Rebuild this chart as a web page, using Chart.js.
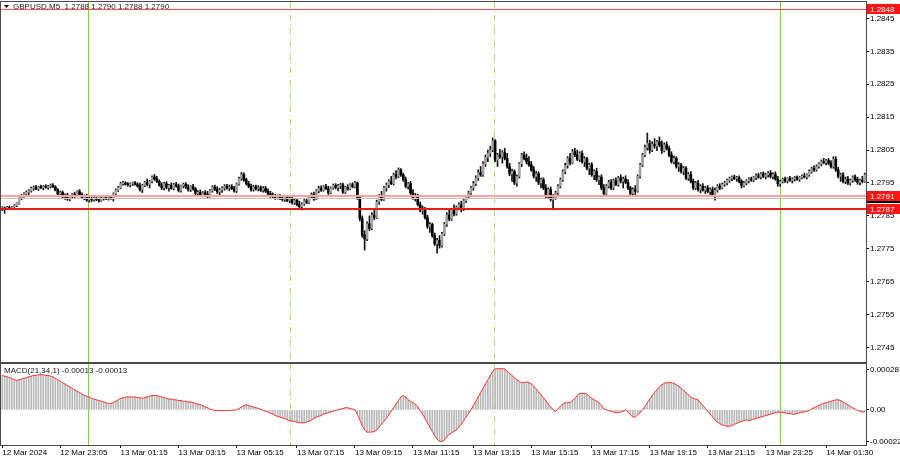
<!DOCTYPE html>
<html>
<head>
<meta charset="utf-8">
<script src="https://cdn.jsdelivr.net/npm/chart.js@4.4.1/dist/chart.umd.min.js"></script>
<style>
body { margin: 0; background: #fff; }
#wrap { position: relative; width: 900px; height: 460px; }
#price { position: absolute; left: 0; top: 0; }
#macd { position: absolute; left: 0; top: 363px; }
</style>
</head>
<body>
<div id="wrap">
<canvas id="price" width="900" height="363"></canvas>
<canvas id="macd" width="900" height="97"></canvas>
</div>
<script>
// GBPUSD M5, prices in points above 1.27000 (872 -> 1.27872)
const opens = [
  872,874,871,876,873,877,881,888,902,912, 917,922,926,934,937,932,938,936,939,937,
  940,943,938,929,916,921,908,913,901,909, 915,910,924,915,906,911,898,902,899,903,
  900,897,903,905,902,906,904,917,928,936, 948,950,946,944,947,949,945,941,930,943,
  952,946,955,968,962,955,944,935,948,936, 943,934,945,940,927,941,946,937,930,939,
  932,918,922,914,920,916,910,927,938,931, 923,929,934,940,935,938,933,926,947,963,
  976,960,948,940,930,938,933,936,928,934, 925,918,912,909,905,910,903,900,906,897,
  902,890,897,884,878,886,896,891,908,915, 901,926,934,928,939,933,920,935,943,936,
  941,944,922,937,932,945,939,950,905,842, 792,780,826,812,852,845,892,908,900,935,
  944,955,948,975,970,990,975,960,940,948, 920,905,912,884,866,872,845,818,824,790,
  765,776,760,795,825,852,840,868,856,876, 884,870,896,908,920,935,948,965,982,975,
  1008,1028,1040,1050,1078,1020,1035,1030,1042,1025, 1000,978,985,950,970,1008,1035,1025,1015,1005,
  990,970,978,950,960,935,910,930,900,905, 920,940,960,985,1003,1025,1012,1045,1036,1022,
  1040,1015,1024,995,1005,975,985,960,968,935, 918,940,952,935,957,945,965,955,962,952,
  935,918,930,925,970,1005,1035,1058,1070,1050, 1068,1062,1075,1065,1048,1066,1055,1035,1015,1025,
  1000,1005,985,995,965,976,955,935,950,930, 940,928,935,924,930,915,928,940,935,946,
  950,958,964,968,963,966,955,942,950,956, 962,959,967,972,968,978,970,975,980,970,
  976,962,948,954,962,956,964,958,962,966, 961,967,971,968,975,985,994,990,1000,1008,
  1015,1012,1018,1010,1000,1022,990,970,975,955, 962,950,958,968,960,952,958,955
];
const highs = [
  878,877,879,880,879,884,890,905,915,921, 926,930,938,941,943,940,944,942,945,943,
  947,948,942,933,925,926,917,919,912,918, 922,927,930,920,914,916,906,907,906,908,
  905,906,909,910,908,912,920,932,940,952, 955,954,951,950,953,955,951,950,946,955,
  962,958,972,976,970,960,951,952,954,946, 950,949,952,947,944,950,951,945,942,946,
  936,927,929,924,927,925,931,942,944,939, 934,938,945,946,944,945,940,950,968,982,
  981,965,955,947,943,944,942,941,939,940, 932,925,920,916,914,915,910,909,911,907,
  908,901,903,895,890,900,904,912,920,922, 930,940,941,942,946,940,938,947,948,946,
  949,950,940,945,948,951,955,953,910,850, 805,832,850,860,870,898,915,925,940,950,
  960,970,980,988,996,994,980,968,952,955, 930,918,916,892,880,876,852,830,828,798,
  782,790,800,830,860,870,872,884,880,890, 895,900,912,925,940,955,972,990,1000,1015,
  1035,1050,1062,1087,1082,1040,1052,1048,1055,1040, 1010,992,990,975,1012,1040,1045,1038,1030,1015,
  1000,985,984,965,966,945,935,938,915,925, 945,965,990,1010,1030,1040,1052,1055,1050,1045,
  1048,1030,1028,1010,1012,990,995,972,975,945, 945,958,960,962,966,970,975,968,972,960,
  940,935,942,975,1010,1040,1065,1102,1080,1075, 1085,1080,1090,1078,1072,1075,1062,1045,1032,1030,
  1012,1010,1000,1000,982,985,962,955,958,945, 948,940,942,935,938,935,945,948,950,955,
  962,968,972,974,970,972,960,955,960,966, 968,970,978,980,982,984,980,985,988,982,
  984,970,958,965,968,966,970,966,970,972, 970,975,980,978,990,998,1002,1005,1012,1020,
  1025,1022,1025,1018,1030,1030,998,980,982,968, 970,962,972,975,968,962,970,980
];
const lows = [
  866,858,869,871,870,874,878,886,899,907, 912,915,922,928,930,927,933,929,934,931,
  935,936,926,913,910,905,900,897,896,904, 906,908,912,902,899,894,892,893,895,896,
  892,894,898,899,898,900,895,912,924,933, 943,944,940,938,942,943,937,925,921,939,
  941,935,950,958,951,940,930,929,932,925, 931,929,937,923,922,935,933,925,924,928,
  913,909,910,908,912,905,907,922,927,918, 914,921,928,931,926,930,922,921,943,958,
  955,944,936,925,925,928,926,924,922,921, 912,906,904,900,901,899,895,894,893,890,
  886,885,880,870,868,882,887,888,903,897, 899,920,924,925,930,915,917,931,932,926,
  933,918,918,928,929,935,935,900,835,785, 746,775,805,808,838,842,885,896,897,925,
  936,945,944,962,966,970,955,935,932,915, 900,895,880,862,855,840,812,800,785,760,
  737,752,755,790,818,835,836,850,852,868, 862,866,890,902,915,928,942,958,970,970,
  1000,1015,1030,1045,1015,1000,1025,1010,1020,995, 972,955,945,940,965,1000,1020,1008,1000,985,
  965,955,945,935,930,905,905,895,868,900, 915,935,955,978,995,1005,1008,1030,1018,1015,
  1010,1000,990,975,970,960,955,945,930,913, 915,935,930,930,942,940,950,935,948,930,
  913,913,915,922,965,1000,1030,1050,1040,1045, 1055,1048,1060,1040,1044,1050,1030,1010,1008,995,
  985,980,975,960,958,950,930,930,925,920, 925,918,920,915,910,898,922,930,932,940,
  944,952,957,960,955,950,935,938,944,950, 955,954,960,964,962,966,962,968,965,962,
  958,940,940,950,952,950,955,950,956,958, 955,962,965,962,970,980,985,986,995,1002,
  1008,1005,1005,995,995,985,965,955,950,948, 945,944,952,955,946,944,950,952
];
const closes = [
  874,871,876,873,877,881,888,902,912,917, 922,926,934,937,932,938,936,939,937,940,
  943,938,929,916,921,908,913,901,909,915, 910,924,915,906,911,898,902,899,903,900,
  897,903,905,902,906,904,917,928,936,948, 950,946,944,947,949,945,941,930,943,952,
  946,955,968,962,955,944,935,948,936,943, 934,945,940,927,941,946,937,930,939,932,
  918,922,914,920,916,910,927,938,931,923, 929,934,940,935,938,933,926,947,963,976,
  960,948,940,930,938,933,936,928,934,925, 918,912,909,905,910,903,900,906,897,902,
  890,897,884,878,886,896,891,908,915,901, 926,934,928,939,933,920,935,943,936,941,
  944,922,937,932,945,939,950,905,842,792, 780,826,812,852,845,892,908,900,935,944,
  955,948,975,970,990,975,960,940,948,920, 905,912,884,866,872,845,818,824,790,765,
  776,760,795,825,852,840,868,856,876,884, 870,896,908,920,935,948,965,982,975,1008,
  1028,1040,1050,1078,1020,1035,1030,1042,1025,1000, 978,985,950,970,1008,1035,1025,1015,1005,990,
  970,978,950,960,935,910,930,900,905,920, 940,960,985,1003,1025,1012,1045,1036,1022,1040,
  1015,1024,995,1005,975,985,960,968,935,918, 940,952,935,957,945,965,955,962,952,935,
  918,930,925,970,1005,1035,1058,1070,1050,1068, 1062,1075,1065,1048,1066,1055,1035,1015,1025,1000,
  1005,985,995,965,976,955,935,950,930,940, 928,935,924,930,915,928,940,935,946,950,
  958,964,968,963,966,955,942,950,956,962, 959,967,972,968,978,970,975,980,970,976,
  962,948,954,962,956,964,958,962,966,961, 967,971,968,975,985,994,990,1000,1008,1015,
  1012,1018,1010,1000,1022,990,970,975,955,962, 950,958,968,960,952,958,955,975
];
// MACD(21,34,1) main line, in units of 0.00001
const macd = [
  24,23.5,23,22.5,22,21,20.5,21,21.5,22, 22.5,23,23.5,24,24,24.5,24.5,24.5,24,24,
  23.5,23,22,21,20,19,18,17,16,15, 14,13,12,11,10,9.5,9,8,7.5,7,
  6.5,6,5.5,5,4.5,4.5,5,6,7,8, 8.5,9,9,9,9,9,8.5,8.5,8,8.5,
  9,9.5,10,10,10,9.5,9,8.5,8,7.5, 7.5,7,7,6.5,6.5,6,6,5.5,5.5,5,
  4.5,4,3.5,3,2,1.5,0.5,0,-0.5,-0.5, -0.5,-0.5,-0.5,-0.5,-0.5,-0.3,-0.2,0,1,2,
  3,3.5,3,2.5,2,1.5,1,0.5,-0.5,-1, -1.5,-2.5,-3,-4,-4.5,-5,-5.5,-6,-7,-7.5,
  -8,-8,-8.5,-9,-9,-9,-8.5,-8,-7,-6, -5,-4.5,-4,-3,-2.5,-2,-1.5,-1,-0.5,0,
  0.5,1,1.5,1.5,1,0.5,0,-3,-7,-11, -14,-15.5,-15.5,-15.5,-15,-14,-12,-10,-8,-6,
  -3.5,-1,1.5,4,6.5,9,10,9,7,6, 5,4,2,-0.5,-3,-6,-9,-12,-15,-18,
  -20.5,-22,-22,-21,-19,-17,-16,-15,-14,-12, -10,-7.5,-5,-2.5,0,3,6,9,12,15,
  18,21,24,27,28.5,28.7,28.7,28.7,28.5,27, 25.5,24,22.5,21,20,19,19,19.5,19,18,
  16.5,14.5,12.5,10.5,8.5,6.5,4,2,0,-1, 0.5,2.5,4,5,5,5,6.5,8,10,11.5,
  11.5,11.5,11,9.5,8,7,6,5,3,1, 0,-0.5,-1,-1.5,-2,-2,-1.5,-1,0,-1.5,
  -3.5,-5,-5,-3.5,-2,0,2.5,5,7.5,10, 12,14,16,17.5,18.5,19,19,19,18.5,17.5,
  16.5,15,13.5,12,10.5,9,8,7.5,7,5, 3,1,-1,-3,-5,-7,-8.5,-9.5,-10.5,-11,
  -11.5,-11.5,-11,-10,-9.5,-8.5,-8,-7.5,-7,-7.5, -7,-6.5,-6,-5.5,-5,-4.5,-4,-3.5,-3,-2.5,
  -2,-1.5,-1.5,-2,-2,-2.5,-2.5,-3,-3,-2.5, -2,-1.5,-1.5,-1,-0.5,0.5,1.5,2.5,3,4,
  4.5,5,5.5,6,6.5,7,7,6.5,5.5,4.5, 3.5,2.5,1.5,0.5,-0.5,-1,-1.5,-1.3
];

const priceTicks = [450, 550, 650, 750, 850, 950, 1050, 1150, 1250, 1350, 1450];
const macdTicks = [28, 0, -22];
const macdTickText = ['0.00028', '0.00', '-0.00022'];
const timeTickIdx = [0, 24, 49, 73, 97, 122, 146, 170, 195, 219, 244, 268, 292, 316, 341];
const timeTickText = ['12 Mar 2024', '12 Mar 23:05', '13 Mar 01:15', '13 Mar 03:15', '13 Mar 05:15',
  '13 Mar 07:15', '13 Mar 09:15', '13 Mar 11:15', '13 Mar 13:15', '13 Mar 15:15', '13 Mar 17:15',
  '13 Mar 19:15', '13 Mar 21:15', '13 Mar 23:25', '14 Mar 01:30'];
const levels = [1480, 910, 870];
const levelText = ['1.2848', '1.2791', '1.2787'];
const bidLevel = 905;
const solidSeps = [36, 322];
const dashSeps = [119, 204];

Chart.defaults.font.family = '"Liberation Sans", Arial, sans-serif';
Chart.defaults.font.size = 8;
Chart.defaults.color = '#000';

const idx = closes.map((_, i) => i);
const bodyColors = closes.map((c, i) => c >= opens[i] ? '#a2a2a2' : '#000000');

// thin green lines lose their colour on odd columns, keep them on even ones
function sepX(x, i) {
    let px = Math.round(x.getPixelForValue(i));
    if (px % 2) px -= 1;
    return px + 0.5;
}

function drawSeparators(chart) {
    const { ctx, chartArea: a, scales: { x } } = chart;
    ctx.save();
    ctx.lineWidth = 1;
    solidSeps.forEach(i => {
        const px = sepX(x, i);
        ctx.strokeStyle = '#6fe010';
        ctx.beginPath(); ctx.moveTo(px, a.top); ctx.lineTo(px, a.bottom); ctx.stroke();
    });
    ctx.setLineDash([6, 3, 1, 3]);
    dashSeps.forEach(i => {
        const px = sepX(x, i);
        ctx.strokeStyle = '#9ee860';
        ctx.beginPath(); ctx.moveTo(px, a.top); ctx.lineTo(px, a.bottom); ctx.stroke();
    });
    ctx.restore();
}

function drawFrame(chart) {
    const { ctx, chartArea: a } = chart;
    ctx.save();
    ctx.strokeStyle = '#4a4a4a';
    ctx.lineWidth = 1;
    ctx.strokeRect(a.left - 0.5, a.top - 0.5, a.right - a.left + 1, a.bottom - a.top + 1);
    ctx.restore();
}

const priceDecor = {
    id: 'priceDecor',
    beforeDatasetsDraw(chart) { drawSeparators(chart); },
    afterDatasetsDraw(chart) {
        const { ctx, chartArea: a, scales: { y } } = chart;
        ctx.save();
        const styles = [['#ff4a4a', 1], ['#ffa0a0', 2], ['#e81c1c', 2]];
        ctx.strokeStyle = '#c4c4c4';
        ctx.lineWidth = 1;
        let py = Math.round(y.getPixelForValue(bidLevel)) + 0.5;
        ctx.beginPath(); ctx.moveTo(a.left, py); ctx.lineTo(a.right, py); ctx.stroke();
        levels.forEach((v, k) => {
            ctx.strokeStyle = styles[k][0];
            ctx.lineWidth = styles[k][1];
            const p = Math.round(y.getPixelForValue(v)) + (styles[k][1] === 1 ? 0.5 : 0);
            ctx.beginPath(); ctx.moveTo(a.left, p); ctx.lineTo(a.right, p); ctx.stroke();
        });
        ctx.restore();
    },
    afterDraw(chart) {
        const { ctx, chartArea: a, scales: { y } } = chart;
        drawFrame(chart);
        ctx.save();
        // header
        ctx.fillStyle = '#000';
        ctx.beginPath(); ctx.moveTo(4, 5); ctx.lineTo(9, 5); ctx.lineTo(6.5, 8); ctx.closePath(); ctx.fill();
        ctx.font = '8px "Liberation Sans", Arial, sans-serif';
        ctx.textBaseline = 'middle';
        ctx.fillStyle = '#1a1a1a';
        ctx.fillText('GBPUSD,M5  1.2788 1.2790 1.2788 1.2790', 13, 7);
        // price boxes on the right axis
        const bx = a.right + 1;
        let p = y.getPixelForValue(bidLevel);
        ctx.fillStyle = '#000';
        ctx.fillRect(bx, Math.round(p) - 5, 900 - bx, 10);
        levels.forEach((v, k) => {
            const q = Math.round(y.getPixelForValue(v));
            ctx.fillStyle = '#ff1414';
            ctx.fillRect(bx, q - 5, 900 - bx, 10);
            ctx.fillStyle = '#fff';
            ctx.fillText(levelText[k], bx + 3, q + 0.5);
        });
        ctx.restore();
    }
};

const macdDecor = {
    id: 'macdDecor',
    beforeDatasetsDraw(chart) { drawSeparators(chart); },
    afterDraw(chart) {
        const { ctx } = chart;
        drawFrame(chart);
        ctx.save();
        ctx.font = '8px "Liberation Sans", Arial, sans-serif';
        ctx.textBaseline = 'middle';
        ctx.fillStyle = '#1a1a1a';
        ctx.fillText('MACD(21,34,1) -0.00013 -0.00013', 4, 8);
        ctx.restore();
    }
};

new Chart(document.getElementById('price'), {
    type: 'bar',
    data: {
        labels: idx,
        datasets: [
            {
                data: lows.map((l, i) => [l, highs[i]]),
                backgroundColor: '#111',
                barThickness: 1,
                grouped: false,
                order: 2
            },
            {
                data: opens.map((o, i) => [o, closes[i]]),
                backgroundColor: bodyColors,
                barThickness: 2,
                minBarLength: 1,
                grouped: false,
                order: 1
            }
        ]
    },
    options: {
        responsive: false,
        animation: false,
        layout: { padding: { top: 2, left: 1, right: 0, bottom: 1 } },
        plugins: { legend: { display: false }, tooltip: { enabled: false } },
        scales: {
            x: { display: false },
            y: {
                position: 'right',
                min: 406,
                max: 1500,
                afterBuildTicks: s => { s.ticks = priceTicks.map(v => ({ value: v })); },
                afterFit: s => { s.width = 34; s.paddingTop = 0; s.paddingBottom = 0; },
                grid: { drawOnChartArea: false, tickLength: 3, color: '#000' },
                border: { display: false },
                ticks: { padding: 1, color: '#000', callback: v => (1.27 + v / 1e5).toFixed(4) }
            }
        }
    },
    plugins: [priceDecor]
});

new Chart(document.getElementById('macd'), {
    type: 'bar',
    data: {
        labels: idx,
        datasets: [
            {
                type: 'line',
                data: macd,
                borderColor: '#ff3434',
                borderWidth: 1,
                pointRadius: 0,
                tension: 0,
                order: 1
            },
            {
                data: macd,
                backgroundColor: '#b8b8b8',
                barThickness: 1,
                grouped: false,
                order: 2
            }
        ]
    },
    options: {
        responsive: false,
        animation: false,
        layout: { padding: { top: 1, left: 1, right: 0, bottom: 0 } },
        plugins: { legend: { display: false }, tooltip: { enabled: false } },
        scales: {
            x: {
                afterFit: s => { s.height = 15; s.paddingLeft = 0; s.paddingRight = 0; },
                grid: {
                    drawOnChartArea: false,
                    offset: false,
                    tickLength: 3,
                    color: c => timeTickIdx.includes(c.index) ? '#000' : 'rgba(0,0,0,0)'
                },
                border: { display: false },
                ticks: {
                    autoSkip: false,
                    maxRotation: 0,
                    minRotation: 0,
                    align: 'start',
                    padding: 0,
                    color: '#000',
                    callback: (v, i) => {
                        const k = timeTickIdx.indexOf(i);
                        return k < 0 ? '' : timeTickText[k];
                    }
                }
            },
            y: {
                position: 'right',
                min: -24.5,
                max: 32,
                afterBuildTicks: s => { s.ticks = macdTicks.map(v => ({ value: v })); },
                afterFit: s => { s.width = 34; s.paddingTop = 0; s.paddingBottom = 0; },
                grid: { drawOnChartArea: false, tickLength: 3, color: '#000' },
                border: { display: false },
                ticks: { padding: 1, color: '#000', callback: v => macdTickText[macdTicks.indexOf(v)] }
            }
        }
    },
    plugins: [macdDecor]
});
</script>
</body>
</html>
